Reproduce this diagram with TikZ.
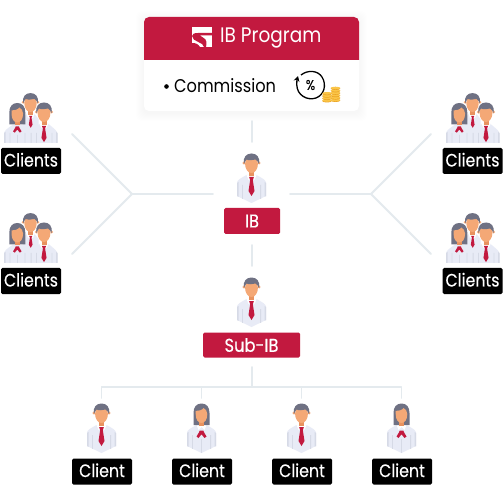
\documentclass[tikz,border=0pt]{standalone}
\usepackage{fontspec}
\setmainfont[FakeStretch=0.88]{Poppins}
\newfontfamily\lblfont[FakeStretch=0.88,FakeBold=0.35]{Poppins}
\usepackage{xcolor}
\usetikzlibrary{arrows.meta, calc, positioning}
\definecolor{Crimson} {HTML}{C2193F}
\definecolor{Wire}    {HTML}{E4EAEE}
\definecolor{Shirt}   {HTML}{E8EBF6}
\definecolor{ShirtDark}{HTML}{D6DAE6}
\definecolor{Hair}    {HTML}{6F7183}
\definecolor{Skin}    {HTML}{F4A876}
\definecolor{SkinDark}{HTML}{E8925F}
\definecolor{Coin}    {HTML}{FBC548}
\definecolor{CoinDark}{HTML}{E9A323}

\tikzset{
  manhead/.pic={
    \fill[SkinDark] (-2.5,-3) rectangle (2.5,3);
    \fill[Skin] (-7.6,-10) circle (1.6) (7.6,-10) circle (1.6);
    \fill[Skin] (0,-9) ellipse (6.4 and 9);
    \fill[Hair] (-7.5,-9) .. controls (-8.8,-16) and (-5,-19.5) .. (0,-19.5)
      .. controls (5,-19.5) and (8.8,-16) .. (7.5,-9)
      .. controls (6.6,-11) and (6,-12.5) .. (4,-13.5)
      .. controls (1,-12.5) and (-3,-12.5) .. (-5,-13.5)
      .. controls (-6,-12.5) and (-6.6,-11) .. (-7.5,-9) -- cycle;
  },
  womanhead/.pic={
    \fill[Hair] (-8,2) -- (-8,-10) .. controls (-8,-16) and (-5,-19.5) .. (0,-19.5)
      .. controls (5,-19.5) and (8,-16) .. (8,-10) -- (8,2) -- cycle;
    \fill[SkinDark] (-2.5,-3) rectangle (2.5,3);
    \fill[Skin] (-5.8,-12) .. controls (-3,-12) and (1,-13) .. (2,-15)
      .. controls (4,-14) and (5.8,-12) .. (5.8,-9)
      .. controls (5.8,-3) and (3,0) .. (0,0)
      .. controls (-3,0) and (-5.8,-3) .. (-5.8,-9) -- cycle;
  },
  tie/.pic={
    \fill[Crimson] (-2.4,0) -- (2.4,0) -- (1.3,3) -- (3,14) -- (0,19) -- (-3,14) -- (-1.3,3) -- cycle;
  },
  bow/.pic={
    \fill[Crimson] (-1.8,-2) -- (1.8,-2) -- (2.6,0) -- (5,4) -- (3,5.5) -- (0,1.8)
      -- (-3,5.5) -- (-5,4) -- (-2.6,0) -- cycle;
  },
  shirt/.pic={
    \fill[Shirt] (-14.5,-7) -- (-14.5,-20) .. controls (-14.5,-23) and (-12,-24) .. (-5,-28)
      -- (5,-28) .. controls (12,-24) and (14.5,-23) .. (14.5,-20) -- (14.5,-7) -- (0,0) -- cycle;
    \fill[ShirtDark] (-14.5,-7) -- (-14.5,-20) -- (-13,-21) -- (-13,-6.2) -- cycle
      (14.5,-7) -- (14.5,-20) -- (13,-21) -- (13,-6.2) -- cycle
      (-9.5,-18) rectangle (-8.7,-4.2) (9.5,-18) rectangle (8.7,-4.2);
    \fill[white] (-5,-28) -- (5,-28) -- (3,-23) -- (0,-26) -- (-3,-23) -- cycle;
  },
  manpic/.pic={
    \pic {shirt};
    \pic at (0,-30) {manhead};
    \pic at (0,-26) {tie};
  },
  womanpic/.pic={
    \pic {shirt};
    \fill[ShirtDark] (-0.4,-14) rectangle (0.4,-0.4);
    \pic at (0,-30) {womanhead};
    \pic at (0,-20.5) {bow};
  },
  % three people standing together, origin at the middle of the bottom edge
  clientspic/.pic={
    \fill[Shirt] (-8,0) -- (-8,-24) -- (-4,-29) -- (4,-29) -- (8,-24) -- (8,0) -- cycle;
    \fill[white] (-4,-29) -- (4,-29) -- (2.5,-25) -- (-2.5,-25) -- cycle;
    \pic[scale=0.97] at (0,-31) {manhead};
    \pic[scale=0.62] at (0.2,-27) {tie};
    \fill[Shirt] (-26.5,0) -- (-26.5,-9) .. controls (-26.5,-12) and (-24,-14) .. (-18,-18)
      -- (-8,-18) .. controls (-2,-14) and (0,-12) .. (0,-9) -- (0,0) -- cycle;
    \fill[ShirtDark] (-26.5,0) -- (-26.5,-10) -- (-25,-11) -- (-25,0) -- cycle
      (-21,-10) rectangle (-20.2,0) (-6,-10) rectangle (-5.2,0) (-13.4,-8) rectangle (-12.6,0);
    \pic at (-13.2,-20.5) {womanhead};
    \pic[scale=0.85] at (-13.2,-15) {bow};
    \fill[Shirt] (0,0) -- (0,-9) .. controls (0,-12) and (3,-14) .. (9,-19)
      -- (18,-19) .. controls (24,-14) and (27,-12) .. (27,-9) -- (27,0) -- cycle;
    \fill[ShirtDark] (25.6,0) -- (25.6,-11) -- (27,-10) -- (27,0) -- cycle
      (0,0) rectangle (1.2,-10) (5.5,-10) rectangle (6.3,0) (21,-10) rectangle (21.8,0);
    \fill[white] (9,-19) -- (18,-19) -- (16,-15) -- (11,-15) -- cycle;
    \pic at (13.5,-21) {manhead};
    \pic[scale=0.85] at (13.5,-17) {tie};
  },
  pics/coins/.style={code={
    \foreach \k in {0,...,#1}{
      \fill[CoinDark] (0,-\k*2.4-1.5) ellipse (4.8 and 1.5);
      \fill[Coin] (0,-\k*2.4-2) ellipse (4.8 and 1.3);
    }
  }},
}

\begin{document}
\begin{tikzpicture}[
  x=1pt, y=-1pt,
  redbadge/.style={fill=Crimson, text=white, rounded corners=1.5pt, font=\lblfont\fontsize{18.5}{20}\selectfont,
                   inner sep=0pt, minimum height=25pt},
  blackbadge/.style={fill=black, text=white, rounded corners=1.5pt, font=\lblfont\fontsize{18}{20}\selectfont,
                   inner sep=0pt, text height=11pt, text depth=0pt, minimum width=60pt, minimum height=26pt},
  wire/.style={draw=Wire, line width=1.8pt, line cap=round, line join=round}
]
  \useasboundingbox (0,0) rectangle (503,486);
  \fill[white] (0,0) rectangle (503,486);

  % card with the soft shadow round it
  \foreach \s in {1,...,8}
    \fill[black, opacity=0.005, rounded corners=6pt] (144-\s,17-\s+2) rectangle (359+\s,111+\s+2);
  \node[fill=white, rounded corners=5pt, minimum width=215pt, minimum height=94pt, inner sep=0pt] (card) at (251.5,64) {};
  \fill[Crimson] (144,60) [rounded corners=5pt] -- (144,17) -- (359,17) [sharp corners] -- (359,60) -- cycle;
  \node[text=white, font=\fontsize{21}{24}\selectfont, inner sep=0pt, anchor=west] (prog) at (220,38) {IB Program};
  \node[font=\fontsize{18.4}{20}\selectfont, inner sep=0pt, anchor=west] (comm) at (174,85.5) {Commission};
  \fill[black] (166.5,86.5) circle (2.3);

  % logo
  \fill[white] (192,27) rectangle (212,47);
  \fill[Crimson] (198,33) -- (212,33) -- (212,35.5) -- (200,35.5) .. controls (204,39) and (208,38) .. (206,47)
    -- (204,47) .. controls (204,42) and (192,42) .. (192,36) .. controls (192,34) and (194,33) .. (198,33) -- cycle;
  \fill[Crimson] (192,43) .. controls (196,43) and (198,44) .. (200,47) -- (192,47) -- cycle;

  % percent badge and coins
  \draw[black, line width=1.3pt, -{Stealth[length=5.5pt,width=6pt]}] (301,75)
    .. controls (308,69.5) and (318,70.5) .. (322,77)
    .. controls (327,85) and (324,95) .. (316,98)
    .. controls (307,101) and (297,95) .. (296.8,85)
    .. controls (296.7,82) and (297,79.5) .. (298,76);
  \node[font=\lblfont\fontsize{14}{14}\selectfont, inner sep=0pt] (pct) at (310.5,85) {\%};
  \pic at (335.5,102) {coins={5}};
  \pic at (327,102.5) {coins={3}};

  % connectors, all with free ends
  \coordinate (cardwire) at (252,121);
  \coordinate (ibtop)    at (252,142);
  \coordinate (ibleft)   at (213,194);
  \coordinate (ibright)  at (290,194);
  \coordinate (forkleft) at (132,194);
  \coordinate (forkright) at (371,194);
  \coordinate (nwend) at (72,134);
  \coordinate (swend) at (72,254);
  \coordinate (neend) at (431,134);
  \coordinate (seend) at (431,254);
  \coordinate (ibbot)  at (252,245);
  \coordinate (subtop) at (252,266);
  \coordinate (subbot) at (252,367);
  \coordinate (bar)    at (252,387);
  \coordinate (barA) at (101.5,387);
  \coordinate (barB) at (201.5,387);
  \coordinate (barC) at (301.5,387);
  \coordinate (barD) at (401.5,387);
  \coordinate (dropA) at (101.5,398);
  \coordinate (dropB) at (201.5,398);
  \coordinate (dropC) at (301.5,398);
  \coordinate (dropD) at (401.5,398);

  \draw[wire] (cardwire) -- (ibtop);
  \draw[wire] (ibleft) -- (forkleft) -- (nwend);
  \draw[wire] (forkleft) -- (swend);
  \draw[wire] (ibright) -- (forkright) -- (neend);
  \draw[wire] (forkright) -- (seend);
  \draw[wire] (ibbot) -- (subtop);
  \draw[wire] (subbot) -- (bar);
  \draw[wire] (dropA) -- (barA) -- (barD) -- (dropD);
  \draw[wire] (barB) -- (dropB);
  \draw[wire] (barC) -- (dropC);

  % people
  \pic at (251.5,203) {manpic};
  \pic at (251.5,327) {manpic};
  \pic at (101.5,453) {manpic};
  \pic at (201.5,453) {womanpic};
  \pic at (301.5,453) {manpic};
  \pic at (401.5,453) {womanpic};
  \pic at (30.5,143) {clientspic};
  \pic at (30.5,263) {clientspic};
  \pic at (472.5,143) {clientspic};
  \pic at (472.5,263) {clientspic};

  % labels
  \node[redbadge, minimum width=56pt, minimum height=26pt] (ib) at (252,221) {IB};
  \node[redbadge, minimum width=97pt] (subib) at (251.5,345) {Sub-IB};
  \node[blackbadge] (clientsNW) at (31,161) {Clients};
  \node[blackbadge] (clientsSW) at (31,281) {Clients};
  \node[blackbadge] (clientsNE) at (472.5,161) {Clients};
  \node[blackbadge] (clientsSE) at (472.5,281) {Clients};
  \node[blackbadge] (clientA) at (102,471.5) {Client};
  \node[blackbadge] (clientB) at (202,471.5) {Client};
  \node[blackbadge] (clientC) at (302,471.5) {Client};
  \node[blackbadge] (clientD) at (402,471.5) {Client};
\end{tikzpicture}
\end{document}
